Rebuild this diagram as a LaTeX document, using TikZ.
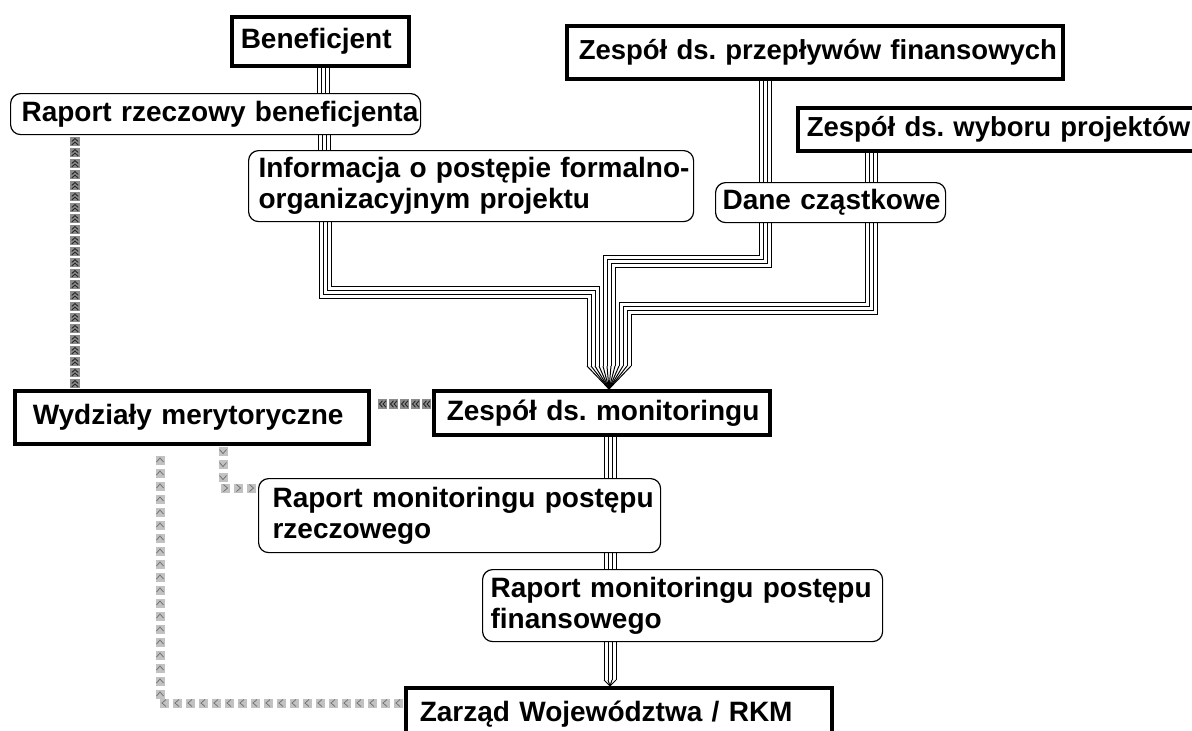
\documentclass[tikz,border=0pt]{standalone}
\usepackage{fontspec}
\setmainfont{Liberation Sans}
\usetikzlibrary{backgrounds,decorations.markings,calc}
\newcommand\tripl[1]{%
 \draw[line width=13pt,black] #1;
 \draw[line width=11pt,white] #1;
 \draw[line width=5pt,black] #1;
 \draw[line width=3pt,white] #1;}
\begin{document}
\begin{tikzpicture}[x=1pt,y=-1pt,
  base/.style={fill=white, anchor=north west, inner ysep=0pt, align=left,
    font=\fontsize{28}{31}\selectfont\bfseries\frenchspacing},
  smallfont/.style={font=\fontsize{27.5}{31}\selectfont\bfseries\frenchspacing},
  thickbox/.style={base, draw=black, line width=3.5pt},
  roundbox/.style={base, draw=black, line width=1.2pt, rounded corners=10pt},
  sz/.style n args={4}{minimum width=#1, minimum height=#2, inner xsep=#3, text width=#4},
  darkchev/.style={decorate, decoration={markings,
    mark=between positions 5.5pt and -3pt step 11pt with {
      \fill[black!45] (-4.5pt,-5pt) rectangle (4.5pt,5pt);
      \draw[black!85, line width=0.9pt] (-3.5pt,-3.2pt) -- (-0.5pt,0pt) -- (-3.5pt,3.2pt)
        (0pt,-3.2pt) -- (3pt,0pt) -- (0pt,3.2pt);}}},
  lightchev/.style={decorate, decoration={markings,
    mark=between positions 6pt and -3pt step 13pt with {
      \fill[black!24] (-4.5pt,-4.5pt) rectangle (4.5pt,4.5pt);
      \draw[black!55, line width=0.8pt] (-2pt,-3.5pt) -- (2pt,0pt) -- (-2pt,3.5pt);}}}
]
\useasboundingbox (0,0) rectangle (1192,731);

\node[thickbox, sz={177pt}{49pt}{9pt}{159pt}] (ben) at (230,15) {\mbox{Beneficjent}};
\node[roundbox, sz={410pt}{41pt}{11pt}{388pt}] (rrb) at (10,93) {\mbox{Raport rzeczowy beneficjenta}};
\node[roundbox, sz={445pt}{71pt}{10pt}{425pt}] (info) at (248,150)
  {\mbox{Informacja o postępie formalno-}\\\mbox{organizacyjnym projektu}};
\node[thickbox, smallfont, sz={496pt}{53pt}{12pt}{472pt}] (zpf) at (565,24) {\mbox{Zespół ds. przepływów finansowych}};
\node[thickbox, smallfont, sz={400pt}{43pt}{9pt}{382pt}] (zwp) at (796,106) {\mbox{Zespół ds. wyboru projektów}};
\node[roundbox, sz={230pt}{40pt}{7pt}{216pt}] (dane) at (715,182) {\mbox{Dane cząstkowe}};
\node[thickbox, sz={354pt}{53pt}{18pt}{318pt}] (wyd) at (13,389) {\mbox{Wydziały merytoryczne}};
\node[thickbox, sz={336pt}{44pt}{13pt}{310pt}] (mon) at (432,389) {\mbox{Zespół ds. monitoringu}};
\node[roundbox, sz={402pt}{74pt}{14pt}{374pt}] (rmr) at (258,478)
  {\mbox{Raport monitoringu postępu}\\\mbox{rzeczowego}};
\node[roundbox, sz={400pt}{72pt}{8pt}{384pt}] (rmf) at (482,569)
  {\mbox{Raport monitoringu postępu}\\\mbox{finansowego}};
\node[thickbox, sz={426pt}{52pt}{14pt}{398pt}] (zar) at (404,686) {\mbox{Zarząd Województwa / RKM}};

\begin{scope}[on background layer]
\fill[white] (0,0) rectangle (1192,731);
% triple-line connectors
\tripl{(323,0 |- ben.south) -- (323,0 |- rrb.north)}
\tripl{(324,0 |- rrb.south) -- (324,0 |- info.north)}
\tripl{(325,0 |- info.south) -- (325,292) -- (593,292) -- (593,366)}
\tripl{(765,0 |- zpf.south) -- (765,0 |- dane.north)}
\tripl{(871,0 |- zwp.south) -- (871,0 |- dane.north)}
\tripl{(765,0 |- dane.south) -- (765,261) -- (609,261) -- (609,366)}
\tripl{(871,0 |- dane.south) -- (871,308) -- (625,308) -- (625,366)}
\foreach \c in {593,609,625}{
  \foreach \o in {-6,-2,2,6}{
    \draw[line width=1pt] (\c+\o,366) -- (609,0 |- mon.north);
  }
}
\tripl{(610,0 |- mon.south) -- (610,0 |- rmr.north)}
\tripl{(610,0 |- rmr.south) -- (610,0 |- rmf.north)}
\coordinate (zend) at ($(610,0 |- zar.north)+(0,-6)$);
\tripl{(610,0 |- rmf.south) -- (zend)}
\foreach \o in {-6,-2,2,6}{
  \draw[line width=1pt] ($(zend)+(\o,0)$) -- (610,0 |- zar.north);
}
% chevron connectors
\path[darkchev] (75,0 |- wyd.north) -- (75,0 |- rrb.south);
\path[darkchev] (mon.west |- 0,404) -- (wyd.east |- 0,404);
\path[lightchev] (223,0 |- wyd.south) -- (223,488) -- (rmr.west |- 0,488);
\path[lightchev] (zar.west |- 0,703) -- (160,703) -- (160,0 |- wyd.south);
\end{scope}
\end{tikzpicture}
\end{document}
